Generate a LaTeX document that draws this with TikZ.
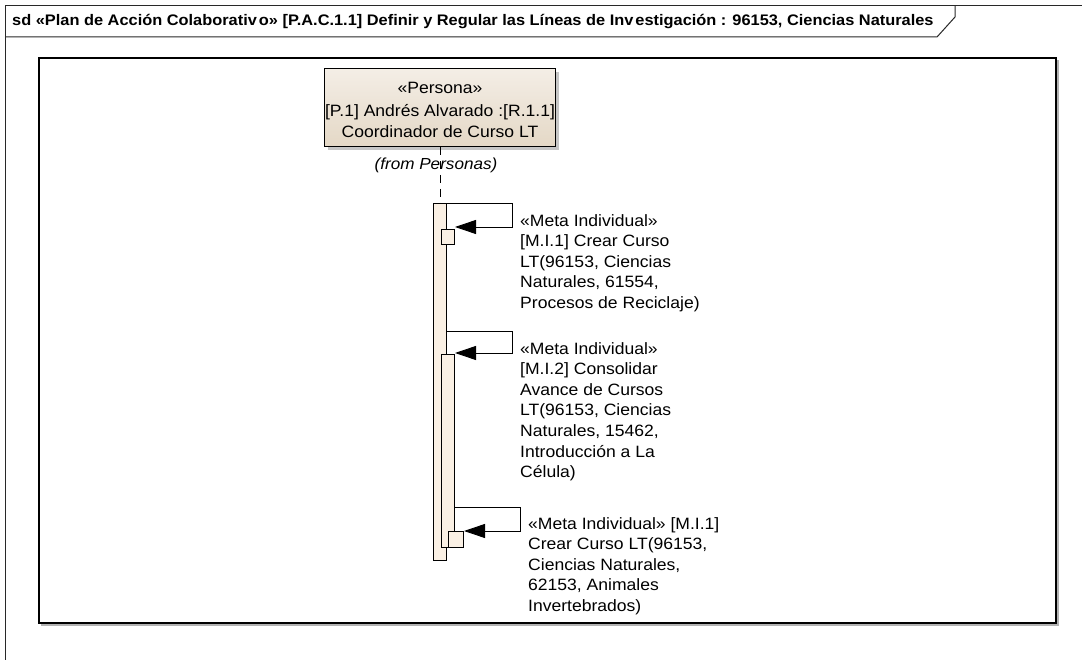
\documentclass[tikz,border=0pt]{standalone}
\usepackage{fontspec}
\setmainfont{Liberation Sans}[FakeStretch=1.07]
\usetikzlibrary{arrows.meta,calc}
\definecolor{framec}{RGB}{40,40,40}
\definecolor{actfill}{RGB}{250,240,228}
\definecolor{pertop}{RGB}{244,238,230}
\definecolor{perbot}{RGB}{228,216,198}
\tikzset{
  lbl/.style={anchor=north west,align=left,inner sep=0pt,font=\fontsize{16.4}{20.6}\selectfont},
  actbar/.style={draw=black,line width=0.9pt,fill=actfill,minimum width=13pt,inner sep=0pt,anchor=north west},
  msg/.style={draw=black,line width=0.9pt,-{Triangle[length=21pt,width=14pt]}},
}
\begin{document}
\begin{tikzpicture}[x=1pt,y=-1pt]
\useasboundingbox (0,0) rectangle (1082,660);
\fill[white] (0,0) rectangle (1082,660);
% outer frame
\draw[framec,line width=1pt] (5,662) -- (5,6) -- (1084,6);
\draw[framec,line width=1pt] (5,37) -- (937,37) -- (955,17) -- (955,6);
\node[anchor=west,inner sep=0pt,font=\fontsize{15.3}{17}\selectfont\bfseries] (title) at (12,22)
 {sd «Plan de Acción Colaborativ\kern2pt o» [P.A.C.1.1] Definir y Regular las Líneas de Inv\kern2pt estigación : 96153, Ciencias Naturales};
% inner frame
\draw[gray!60,line width=1.5pt] (41,625) -- (1058,625) -- (1058,60);
\draw[black,line width=1.3pt] (39,58) rectangle (1056,623);
% persona
\fill[gray!45] (328,72) rectangle (559,150);
\node[draw=black,line width=1pt,top color=pertop,bottom color=perbot,minimum width=231pt,minimum height=78pt,inner sep=0pt,anchor=north west] (per) at (324,68) {};
\node[font=\fontsize{16.4}{20.5}\selectfont,anchor=center] (st) at (440,88) {«Persona»};
\node[font=\fontsize{16.4}{20.5}\selectfont,anchor=center,align=center] (pn) at (440,121) {{[P.1]} Andrés Alvarado :[R.1.1]\\Coordinador de Curso LT};
\node[font=\fontsize{16}{17}\selectfont\itshape,anchor=center] (from) at (436,165) {(from Personas)};
% activations
\node[actbar,minimum height=357pt] (act1) at (433,203) {};
\node[actbar,minimum height=193pt] (act2) at (441,354) {};
\node[actbar,minimum height=15pt] (box1) at (441,229) {};
\node[actbar,minimum width=15pt,minimum height=16pt] (box3) at (448,531) {};
\draw[dashed,line width=0.9pt,dash pattern=on 8pt off 6pt] (per.south -| act1.north) -- (act1.north);
% messages
\coordinate (t1) at (455,227);
\coordinate (t2) at (455,353);
\coordinate (t3) at (464,531);
\draw[msg] (act1.north east) -- (512,203) -- (512,227) -- (t1);
\draw[msg] (act1.east |- 0,331) -- (512,331) -- (512,353) -- (t2);
\draw[msg] (act2.east |- 0,507) -- (520,507) -- (520,531) -- (t3);
% labels
\node[lbl] (l1) at (520,214) {«Meta Individual»\\{[M.I.1]} Crear Curso\\LT(96153, Ciencias\\Naturales, 61554,\\Procesos de Reciclaje)};
\node[lbl] (l2) at (520,342) {«Meta Individual»\\{[M.I.2]} Consolidar\\Avance de Cursos\\LT(96153, Ciencias\\Naturales, 15462,\\Introducción a La\\Célula)};
\node[lbl] (l3) at (528,517) {«Meta Individual» [M.I.1]\\Crear Curso LT(96153,\\Ciencias Naturales,\\62153, Animales\\Invertebrados)};
\end{tikzpicture}
\end{document}
